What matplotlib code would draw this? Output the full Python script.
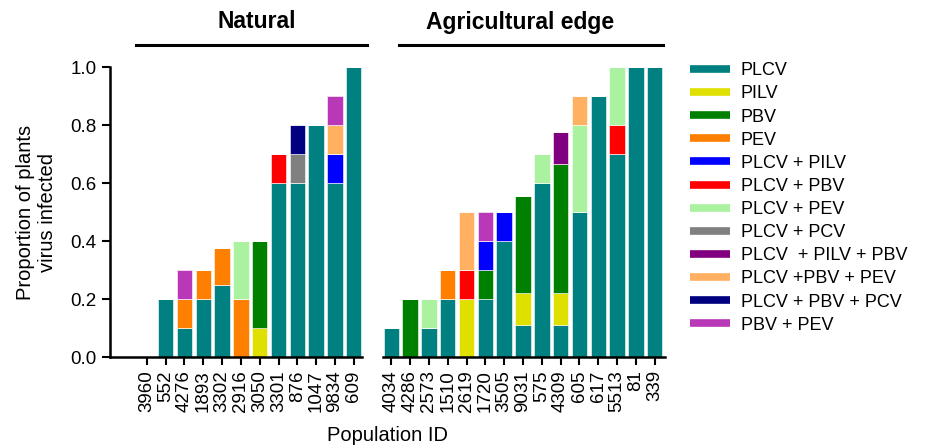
import matplotlib.pyplot as plt
from matplotlib.lines import Line2D

plt.rcParams['font.family'] = ['Liberation Sans', 'DejaVu Sans']

# population IDs for each habitat group
natural_ids = ["3960", "552", "4276", "1893", "3302", "2916", "3050",
               "3301", "876", "1047", "9834", "609"]
agri_ids = ["4034", "4286", "2573", "1510", "2619", "1720", "3505", "9031",
            "575", "4309", "605", "617", "5513", "81", "339"]

# proportion of plants per infection type, natural (12) then agricultural (15)
plcv = [0, 0.2, 0.1, 0.2, 0.25, 0, 0, 0.6, 0.6, 0.8, 0.6, 1.0,
        0.1, 0, 0.1, 0.2, 0, 0.2, 0.4, 0.111, 0.6, 0.111, 0.5, 0.9, 0.7, 1.0, 1.0]
pilv = [0, 0, 0, 0, 0, 0, 0.1, 0, 0, 0, 0, 0,
        0, 0, 0, 0, 0.2, 0, 0, 0.111, 0, 0.111, 0, 0, 0, 0, 0]
pbv = [0, 0, 0, 0, 0, 0, 0.3, 0, 0, 0, 0, 0,
       0, 0.2, 0, 0, 0, 0.1, 0, 0.333, 0, 0.444, 0, 0, 0, 0, 0]
pev = [0, 0, 0.1, 0.1, 0.125, 0.2, 0, 0, 0, 0, 0, 0,
       0, 0, 0, 0.1, 0, 0, 0, 0, 0, 0, 0, 0, 0, 0, 0]
plcv_pilv = [0, 0, 0, 0, 0, 0, 0, 0, 0, 0, 0.1, 0,
             0, 0, 0, 0, 0, 0.1, 0.1, 0, 0, 0, 0, 0, 0, 0, 0]
plcv_pbv = [0, 0, 0, 0, 0, 0, 0, 0.1, 0, 0, 0, 0,
            0, 0, 0, 0, 0.1, 0, 0, 0, 0, 0, 0, 0, 0.1, 0, 0]
plcv_pev = [0, 0, 0, 0, 0, 0.2, 0, 0, 0, 0, 0, 0,
            0, 0, 0.1, 0, 0, 0, 0, 0, 0.1, 0, 0.3, 0, 0.2, 0, 0]
plcv_pcv = [0, 0, 0, 0, 0, 0, 0, 0, 0.1, 0, 0, 0,
            0, 0, 0, 0, 0, 0, 0, 0, 0, 0, 0, 0, 0, 0, 0]
plcv_pilv_pbv = [0, 0, 0, 0, 0, 0, 0, 0, 0, 0, 0, 0,
                 0, 0, 0, 0, 0, 0, 0, 0, 0, 0.111, 0, 0, 0, 0, 0]
plcv_pbv_pev = [0, 0, 0, 0, 0, 0, 0, 0, 0, 0, 0.1, 0,
                0, 0, 0, 0, 0.2, 0, 0, 0, 0, 0, 0.1, 0, 0, 0, 0]
plcv_pbv_pcv = [0, 0, 0, 0, 0, 0, 0, 0, 0.1, 0, 0, 0,
                0, 0, 0, 0, 0, 0, 0, 0, 0, 0, 0, 0, 0, 0, 0]
pbv_pev = [0, 0, 0.1, 0, 0, 0, 0, 0, 0, 0, 0.1, 0,
           0, 0, 0, 0, 0, 0.1, 0, 0, 0, 0, 0, 0, 0, 0, 0]

series = [
    ("PLCV", plcv, "#008080"),
    ("PILV", pilv, "#e0e000"),
    ("PBV", pbv, "#008000"),
    ("PEV", pev, "#ff8000"),
    ("PLCV + PILV", plcv_pilv, "#0000ff"),
    ("PLCV + PBV", plcv_pbv, "#ff0000"),
    ("PLCV + PEV", plcv_pev, "#aaf2a0"),
    ("PLCV + PCV", plcv_pcv, "#808080"),
    ("PLCV  + PILV + PBV", plcv_pilv_pbv, "#800080"),
    ("PLCV +PBV + PEV", plcv_pbv_pev, "#ffb060"),
    ("PLCV + PBV + PCV", plcv_pbv_pcv, "#000080"),
    ("PBV + PEV", pbv_pev, "#b838b8"),
]

# one empty slot between the two groups
x = list(range(len(natural_ids))) + [len(natural_ids) + 1 + i for i in range(len(agri_ids))]
labels = natural_ids + agri_ids

fig = plt.figure(figsize=(9.27, 4.47), dpi=100)
ax = fig.add_axes([110 / 927, 90 / 447, 555 / 927, 290 / 447])

bottom = [0] * len(x)
handles = []
for name, vals, col in series:
    ax.bar(x, vals, width=0.82, bottom=bottom, color=col, edgecolor="white", linewidth=0.4)
    bottom = [b + v for b, v in zip(bottom, vals)]
    handles.append(Line2D([], [], color=col, lw=5.5, solid_capstyle="butt", label=name))

ax.set_xlim(-1.96, 27.55)
ax.set_ylim(0, 1.0)
ax.set_yticks([0, 0.2, 0.4, 0.6, 0.8, 1.0])
ax.set_yticklabels(["0.0", "0.2", "0.4", "0.6", "0.8", "1.0"])
ax.set_xticks(x)
ax.set_xticklabels(labels, rotation=90)
ax.tick_params(axis="both", labelsize=13.5, width=1.5, length=6, direction="out")
ax.spines["top"].set_visible(False)
ax.spines["right"].set_visible(False)
ax.spines["bottom"].set_visible(False)
ax.spines["left"].set_linewidth(1.8)

# broken x axis: one segment per habitat group
tr = ax.get_xaxis_transform()
ax.plot([-1.96, 11.45], [0, 0], color="black", lw=1.8, transform=tr, clip_on=False)
ax.plot([12.55, 27.55], [0, 0], color="black", lw=1.8, transform=tr, clip_on=False)

ax.set_ylabel("Proportion of plants\nvirus infected", fontsize=14.5, labelpad=10)
ax.set_xlabel("Population ID", fontsize=14.5, labelpad=10)

# group headers with underline
fig.add_artist(Line2D([136 / 927, 367 / 927], [1 - 45 / 447] * 2, color="black", lw=2.2))
fig.add_artist(Line2D([399 / 927, 663 / 927], [1 - 45 / 447] * 2, color="black", lw=2.2))
fig.text(257 / 927, 1 - 22 / 447, "Natural", ha="center", va="center",
         fontsize=16.5, fontweight="bold")
fig.text(520 / 927, 1 - 22 / 447, "Agricultural edge", ha="center", va="center",
         fontsize=16.5, fontweight="bold")

fig.legend(handles=handles, loc="upper left", bbox_to_anchor=(683 / 927, 1 - 55 / 447),
           frameon=False, fontsize=13, handlelength=2.2, handletextpad=0.6,
           labelspacing=0.34, borderaxespad=0)

fig.savefig("out.png", dpi=100)
